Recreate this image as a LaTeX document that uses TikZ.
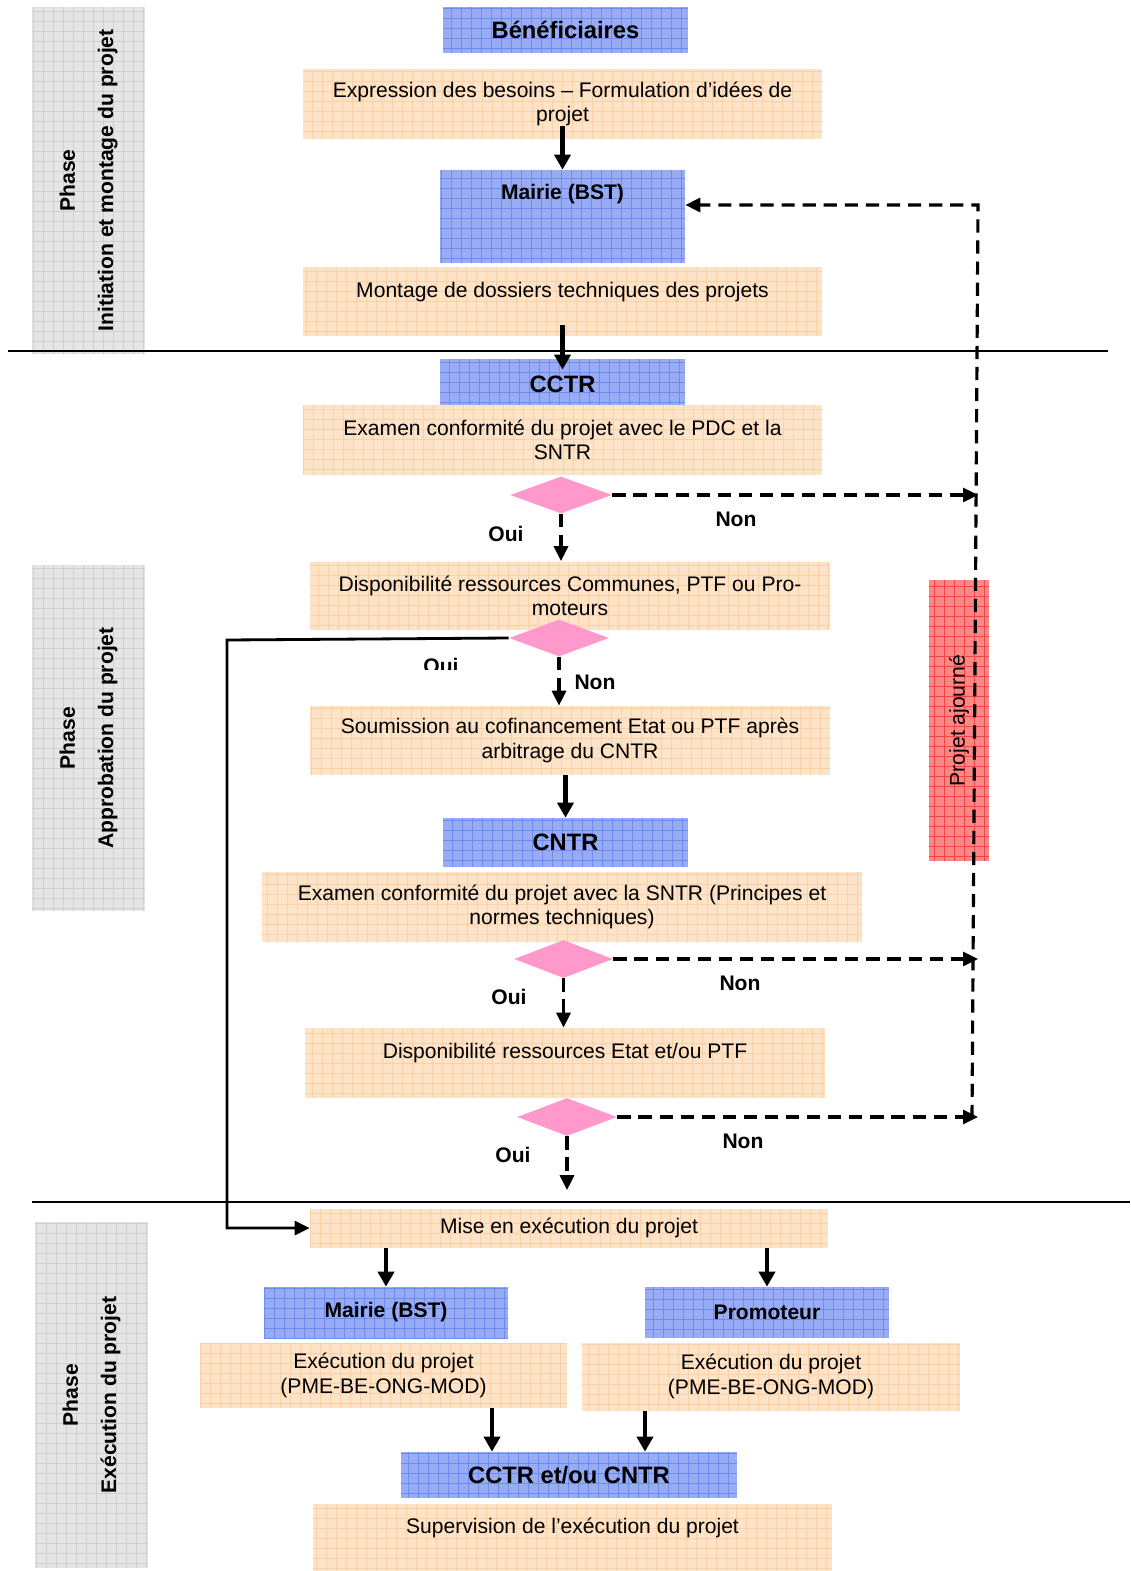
\documentclass[tikz,border=0pt]{standalone}
\usepackage{fontspec}
\setmainfont{Liberation Sans}
\usetikzlibrary{shapes.geometric, arrows.meta, positioning}

\definecolor{bluefill}{RGB}{152,172,245}
\definecolor{bluegrid}{RGB}{110,140,238}
\definecolor{orangefill}{RGB}{253,227,200}
\definecolor{orangegrid}{RGB}{250,208,166}
\definecolor{redfill}{RGB}{252,135,135}
\definecolor{redgrid}{RGB}{240,70,70}
\definecolor{grayfill}{RGB}{229,229,229}
\definecolor{graygrid}{RGB}{208,208,208}
\definecolor{pinkfill}{RGB}{255,153,204}

\tikzset{
    gridded/.style={path picture={\draw[#1, line width=0.35pt]
        (path picture bounding box.south west) grid[step=0.2cm]
        (path picture bounding box.north east);}}
}

\begin{document}
\begin{tikzpicture}[
    x=0.02cm, y=-0.02cm,
    actor/.style={
        rectangle, fill=bluefill, gridded=bluegrid, inner sep=0pt,
        minimum width=4.9cm, minimum height=1cm,
        font=\fontsize{13.5}{15.5}\selectfont\bfseries, align=center
    },
    task/.style={
        rectangle, fill=orangefill, gridded=orangegrid, inner sep=0pt,
        minimum width=10.38cm, minimum height=1.4cm,
        font=\fontsize{12}{13.8}\selectfont, align=center
    },
    decision/.style={diamond, fill=pinkfill, inner sep=0pt,
        minimum width=2cm, minimum height=0.75cm},
    phasebar/.style={
        rectangle, fill=grayfill, gridded=graygrid, rotate=90, inner sep=0pt,
        minimum width=6.94cm, minimum height=2.26cm,
        font=\fontsize{12}{13.8}\selectfont\bfseries, align=center
    },
    answer/.style={font=\fontsize{12}{13.8}\selectfont\bfseries},
    arrow/.style={-{Triangle[length=0.3cm, width=0.32cm]}, line width=2.3pt},
    dasharrow/.style={-{Triangle[length=0.3cm, width=0.28cm]}, line width=1.8pt,
        dash pattern=on 7.5pt off 4.5pt},
    ouiarrow/.style={-{Triangle[length=0.3cm, width=0.28cm]}, line width=1.6pt}
]
\useasboundingbox (0,0) rectangle (1130,1571);

% Phases
\node[phasebar] (phase_init) at (88.5,180.5) {Phase\\[8pt]Initiation et montage du projet};
\node[phasebar] (phase_appro) at (88.5,738) {Phase\\[8pt]Approbation du projet};
\node[phasebar] (phase_exec) at (91.5,1395) {Phase\\[8pt]Exécution du projet};

% Projet ajourne
\node[rectangle, fill=redfill, gridded=redgrid, rotate=90, inner sep=0pt,
    minimum width=5.62cm, minimum height=1.2cm,
    font=\fontsize{12}{13.8}\selectfont] (ajourne) at (959,720.5) {Projet ajourné};

% Initiation
\node[actor, minimum height=0.92cm] (benef) at (565.5,30) {Bénéficiaires};
\node[task] (expr) at (562.5,104) {Expression des besoins – Formulation d’idées de\\projet};
\node[actor, minimum height=1.86cm, font=\fontsize{12}{13.8}\selectfont\bfseries]
    (mairie_top) at (562.5,216.5) {Mairie (BST)\\\mbox{}\\\mbox{}};
\node[task, minimum height=1.38cm] (montage) at (562.5,301.5) {Montage de dossiers techniques des projets\\\mbox{}};

% Approbation
\node[actor] (cctr) at (562.5,384) {CCTR};
\node[task] (examen_pdc) at (562.5,440) {Examen conformité du projet avec le PDC et la\\SNTR};
\node[decision, minimum width=2.04cm, minimum height=0.74cm] (d_pdc) at (561,495) {};
\node[task, minimum width=10.4cm, minimum height=1.38cm] (dispo_com) at (570,596) {Disponibilité ressources Communes, PTF ou Pro-\\moteurs};
\node[decision, minimum height=0.74cm] (d_com) at (559,638) {};
\node[task, minimum width=10.4cm, minimum height=1.38cm] (soumis) at (570,740.5) {Soumission au cofinancement Etat ou PTF après\\arbitrage du CNTR};
\node[actor, minimum height=0.98cm] (cntr) at (565.5,842.5) {CNTR};
\node[task, minimum width=12cm] (examen_sntr) at (562,907) {Examen conformité du projet avec la SNTR (Principes et\\normes techniques)};
\node[decision, minimum width=1.98cm, minimum height=0.76cm] (d_sntr) at (563.5,959) {};
\node[task, minimum width=10.4cm] (dispo_etat) at (565,1063) {Disponibilité ressources Etat et/ou PTF\\\mbox{}};
\node[decision, minimum height=0.76cm] (d_etat) at (567,1117) {};

% Execution
\node[task, minimum width=10.36cm, minimum height=0.78cm] (mise) at (569,1228) {Mise en exécution du projet};
\node[actor, minimum width=4.88cm, minimum height=1.02cm, font=\fontsize{12}{13.8}\selectfont\bfseries]
    (mairie_bot) at (386,1312.5) {Mairie (BST)};
\node[actor, minimum width=4.88cm, minimum height=1.02cm, font=\fontsize{12}{13.8}\selectfont\bfseries]
    (promoteur) at (767,1312.5) {Promoteur};
\node[task, minimum width=7.34cm, minimum height=1.3cm] (exec_l) at (383.5,1375.5) {Exécution du projet\\(PME-BE-ONG-MOD)};
\node[task, minimum width=7.56cm, minimum height=1.36cm] (exec_r) at (771,1376.5) {Exécution du projet\\(PME-BE-ONG-MOD)};
\node[actor, minimum width=6.72cm, minimum height=0.92cm] (ctrl) at (569,1475) {CCTR et/ou CNTR};
\node[task, minimum height=1.36cm] (superv) at (572.5,1538) {Supervision de l’exécution du projet\\\mbox{}};

% Labels
\node[answer] (non_pdc) at (736,519) {Non};
\node[answer] (oui_pdc) at (506,534) {Oui};
\begin{scope}
    \clip (400,645) rectangle (480,669);
    \node[answer] (oui_com) at (441,666) {Oui};
\end{scope}
\node[answer] (non_com) at (595,682) {Non};
\node[answer] (non_sntr) at (740,983) {Non};
\node[answer] (oui_sntr) at (509,997) {Oui};
\node[answer] (non_etat) at (743,1141) {Non};
\node[answer] (oui_etat) at (513,1155) {Oui};

% Separators
\draw[line width=1pt] (8,351) -- (1108,351);
\draw[line width=1pt] (32,1202) -- (1130,1202);

% Flow
\draw[arrow] ([yshift=0.26cm]expr.south) -- (mairie_top.north);
\draw[arrow] ([yshift=0.22cm]montage.south) -- ([yshift=-0.22cm]cctr.north);
\draw[arrow] (cntr.north |- soumis.south) -- (cntr.north);
\draw[arrow] (mairie_bot.north |- mise.south) -- (mairie_bot.north);
\draw[arrow] (promoteur.north |- mise.south) -- (promoteur.north);
\coordinate (ctrl_left) at ([xshift=-1.54cm]ctrl.north);
\coordinate (ctrl_right) at ([xshift=1.52cm]ctrl.north);
\draw[arrow] (ctrl_left |- exec_l.south) -- (ctrl_left);
\draw[arrow] (ctrl_right |- exec_r.south) -- (ctrl_right);

% Decisions
\draw[dasharrow] (d_pdc.south) -- (d_pdc.south |- dispo_com.north);
\draw[dasharrow] (d_com.south) -- (d_com.south |- soumis.north);
\draw[dasharrow] (d_sntr.south) -- (d_sntr.south |- dispo_etat.north);
\draw[dasharrow, shorten >=0.36cm] (d_etat.south) -- (d_etat.south |- mise.north);

% Retour projet ajourne
\coordinate (ret_top) at (978,205);
\coordinate (ret_bot) at (972,1118);
\draw[dasharrow] (d_pdc.east) -- (d_pdc.east -| ret_top);
\draw[dasharrow] (d_sntr.east) -- (d_sntr.east -| ret_top);
\draw[dasharrow] (d_etat.east) -- (d_etat.east -| ret_top);
\draw[dasharrow] (ret_bot) -- (ret_top) -- (mairie_top.east |- ret_top);

% Oui vers execution
\coordinate (oui_bend) at (227,640);
\draw[ouiarrow] (d_com.west) -- (oui_bend) |- (mise.west);

\end{tikzpicture}
\end{document}
